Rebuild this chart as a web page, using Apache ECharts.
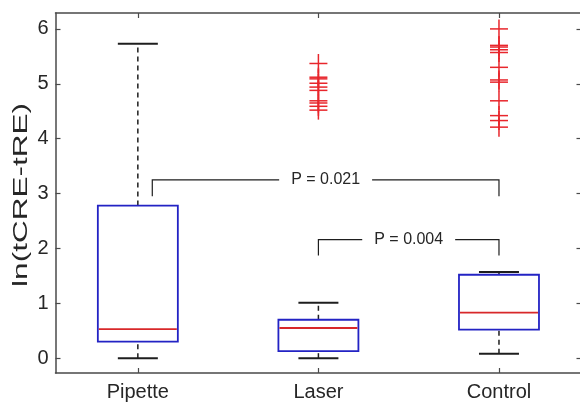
<!DOCTYPE html>
<html>
<head>
<meta charset="utf-8">
<script src="https://cdn.jsdelivr.net/npm/echarts@6/dist/echarts.min.js"></script>
<style>
html,body{margin:0;padding:0;background:#fff;}
#chart{width:580px;height:405px;}
</style>
</head>
<body>
<div id="chart"></div>
<script>
// ---- data ----
var categories = ['Pipette', 'Laser', 'Control'];
var categoryPos = [1, 2, 3];
// [lowerWhisker, Q1, median, Q3, upperWhisker]
var pipetteStats = [0.00, 0.30, 0.53, 2.78, 5.73];
var laserStats   = [0.00, 0.13, 0.55, 0.70, 1.01];
var controlStats = [0.08, 0.52, 0.83, 1.52, 1.57];
var laserOutliers   = [5.37, 5.12, 5.09, 5.01, 4.94, 4.88, 4.69, 4.65, 4.59, 4.52];
var controlOutliers = [6.00, 5.70, 5.67, 5.62, 5.57, 5.30, 5.07, 5.03, 4.69, 4.42, 4.33, 4.21];
var yTicks = [0, 1, 2, 3, 4, 5, 6];
// comparisons: [fromX, toX, legBottom, barY, label]
var comparisons = [
  [1.08, 3, 2.95, 3.25, 'P = 0.021'],
  [2.00, 3, 1.87, 2.16, 'P = 0.004']
];
var yLabel = 'ln(tCRE-tRE)';

// ---- styles ----
var FONT = "'Liberation Sans', Arial, sans-serif";
var AXIS_COLOR = '#4a4a4a';
var TEXT_COLOR = '#262626';
var BOX_COLOR = '#2323c4';
var MEDIAN_COLOR = '#d8282a';
var OUTLIER_COLOR = '#e8262c';
var WHISKER_COLOR = '#1e1e1e';
var BOX_HALF = 40, CAP_HALF = 20, PLUS_HALF_W = 9, PLUS_HALF_H = 9.5;

var allStats = [pipetteStats, laserStats, controlStats];
var boxData = allStats.map(function (s, i) { return [categoryPos[i]].concat(s); });
var outlierData = [];
laserOutliers.forEach(function (v) { outlierData.push([categoryPos[1], v]); });
controlOutliers.forEach(function (v) { outlierData.push([categoryPos[2], v]); });

function renderBox(params, api) {
  var x = api.value(0);
  var lo = api.coord([x, api.value(1)]);
  var q1 = api.coord([x, api.value(2)]);
  var md = api.coord([x, api.value(3)]);
  var q3 = api.coord([x, api.value(4)]);
  var hi = api.coord([x, api.value(5)]);
  var cx = lo[0];
  var dashStyle = {stroke: WHISKER_COLOR, lineWidth: 1.5, lineDash: [5, 4]};
  var solid = {stroke: WHISKER_COLOR, lineWidth: 2};
  return {
    type: 'group',
    children: [
      {type: 'line', shape: {x1: cx, y1: q3[1], x2: cx, y2: hi[1]}, style: dashStyle},
      {type: 'line', shape: {x1: cx, y1: lo[1], x2: cx, y2: q1[1]}, style: dashStyle},
      {type: 'line', shape: {x1: cx - CAP_HALF, y1: hi[1], x2: cx + CAP_HALF, y2: hi[1]}, style: solid},
      {type: 'line', shape: {x1: cx - CAP_HALF, y1: lo[1], x2: cx + CAP_HALF, y2: lo[1]}, style: solid},
      {type: 'rect', shape: {x: cx - BOX_HALF, y: q3[1], width: BOX_HALF * 2, height: q1[1] - q3[1]},
        style: {fill: 'rgba(0,0,0,0)', stroke: BOX_COLOR, lineWidth: 1.8}},
      {type: 'line', shape: {x1: cx - BOX_HALF + 1, y1: md[1], x2: cx + BOX_HALF - 1, y2: md[1]},
        style: {stroke: MEDIAN_COLOR, lineWidth: 1.8}}
    ]
  };
}

function renderPlus(params, api) {
  var p = api.coord([api.value(0), api.value(1)]);
  var st = {stroke: OUTLIER_COLOR, lineWidth: 1.5};
  return {
    type: 'group',
    children: [
      {type: 'line', shape: {x1: p[0] - PLUS_HALF_W, y1: p[1], x2: p[0] + PLUS_HALF_W, y2: p[1]}, style: st},
      {type: 'line', shape: {x1: p[0], y1: p[1] - PLUS_HALF_H, x2: p[0], y2: p[1] + PLUS_HALF_H}, style: st}
    ]
  };
}

function renderBracket(params, api) {
  var d = comparisons[params.dataIndex];
  var a = api.coord([d[0], d[2]]);
  var b = api.coord([d[0], d[3]]);
  var c = api.coord([d[1], d[3]]);
  var e = api.coord([d[1], d[2]]);
  var m = api.coord([(d[0] + d[1]) / 2, d[3]]);
  return {
    type: 'group',
    children: [
      {type: 'polyline', shape: {points: [a, b, c, e]},
        style: {fill: null, stroke: '#1e1e1e', lineWidth: 1.2}},
      {type: 'text', x: m[0], y: m[1], z2: 10,
        style: {text: d[4], fill: TEXT_COLOR, font: '16px ' + FONT, align: 'center',
          verticalAlign: 'middle', backgroundColor: '#fff', padding: [2, 12]}}
    ]
  };
}

var chart = echarts.init(document.getElementById('chart'), null, {renderer: 'canvas'});
var axisLine = {show: true, onZero: false, lineStyle: {color: AXIS_COLOR, width: 1.5}};
var tickStyle = {show: true, inside: true, length: 5, lineStyle: {color: AXIS_COLOR, width: 1.2}};
var option = {
  animation: false,
  backgroundColor: '#fff',
  grid: {left: 55.5, right: -1.5, top: 13, bottom: 32, containLabel: false, outerBoundsMode: 'none'},
  xAxis: [
    {type: 'value', position: 'bottom', min: 0.544, max: 3.457,
      axisLine: axisLine, splitLine: {show: false},
      axisTick: Object.assign({customValues: categoryPos}, tickStyle),
      axisLabel: {customValues: categoryPos, margin: 9, color: TEXT_COLOR, fontSize: 20, fontFamily: FONT,
        formatter: function (v) { var i = categoryPos.indexOf(v); return i >= 0 ? categories[i] : ''; }}},
    {type: 'value', position: 'top', min: 0.544, max: 3.457,
      axisLine: axisLine, splitLine: {show: false},
      axisTick: Object.assign({customValues: categoryPos}, tickStyle),
      axisLabel: {show: false}}
  ],
  yAxis: [
    {type: 'value', position: 'left', min: -0.27, max: 6.29,
      axisLine: axisLine, splitLine: {show: false},
      axisTick: Object.assign({customValues: yTicks}, tickStyle),
      axisLabel: {customValues: yTicks, margin: 7, color: TEXT_COLOR, fontSize: 20, fontFamily: FONT}},
    {type: 'value', position: 'right', min: -0.27, max: 6.29,
      axisLine: axisLine, splitLine: {show: false},
      axisTick: Object.assign({customValues: yTicks}, tickStyle),
      axisLabel: {show: false}}
  ],
  graphic: [
    {type: 'text', x: 21, y: 195, rotation: Math.PI / 2, scaleX: 1.5,
      style: {text: yLabel, fill: TEXT_COLOR, font: '21px ' + FONT, align: 'center', verticalAlign: 'middle'}}
  ],
  series: [
    {type: 'custom', name: 'box', xAxisIndex: 0, yAxisIndex: 0, renderItem: renderBox, data: boxData, clip: false},
    {type: 'custom', name: 'outliers', xAxisIndex: 0, yAxisIndex: 0, renderItem: renderPlus, data: outlierData, clip: false},
    {type: 'custom', name: 'brackets', xAxisIndex: 0, yAxisIndex: 0, renderItem: renderBracket,
      data: comparisons.map(function (c) { return [c[0], c[3]]; }), clip: false}
  ]
};
chart.setOption(option);
</script>
</body>
</html>
